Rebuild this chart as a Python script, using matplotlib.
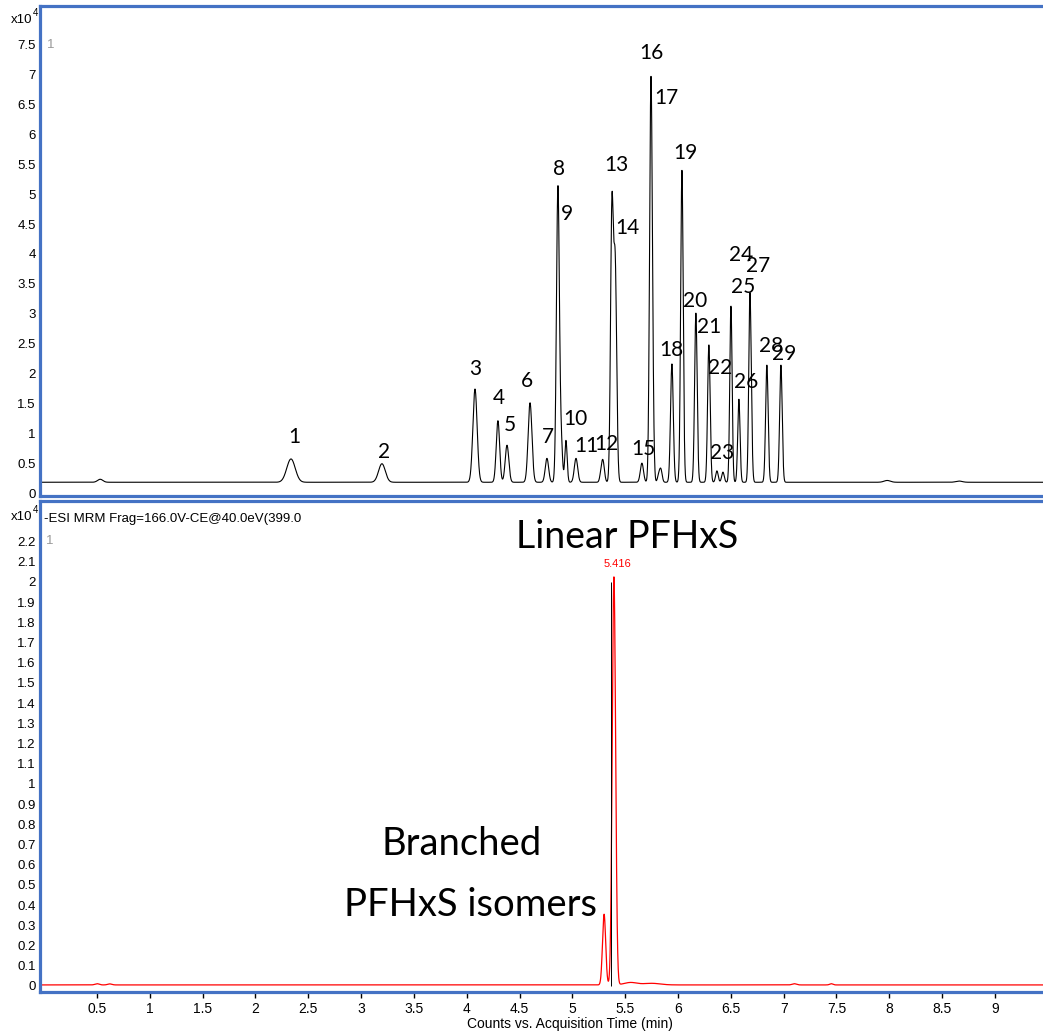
import numpy as np
import matplotlib
matplotlib.use("Agg")
import matplotlib.pyplot as plt

# ---- data (x10^4 counts, retention time in min) ----
# top chromatogram: peak retention times, apex heights above baseline, widths (sigma)
top_rt = [0.53, 2.336, 3.197, 4.078, 4.295, 4.381, 4.599, 4.759, 4.863, 4.895, 4.939, 5.034,
          5.27, 5.289, 5.374, 5.405, 5.658, 5.744, 5.765, 5.818, 5.838, 5.942, 6.037, 6.169,
          6.292, 6.368, 6.425, 6.501, 6.576, 6.680, 6.695, 6.841, 6.974, 7.98, 8.66]
top_height = [0.05, 0.39, 0.31, 1.56, 1.03, 0.62, 1.33, 0.40, 4.95, 0.6, 0.70, 0.40,
              0.10, 0.35, 4.50, 3.6, 0.32, 6.75, 0.4, 0.12, 0.20, 1.98, 5.22, 2.83,
              2.30, 0.19, 0.17, 2.95, 1.39, 3.0, 0.5, 1.96, 1.96, 0.03, 0.02]
top_sigma = [0.025, 0.040, 0.032, 0.020, 0.016, 0.017, 0.018, 0.016, 0.014, 0.012, 0.011, 0.016,
             0.012, 0.014, 0.013, 0.014, 0.015, 0.013, 0.010, 0.012, 0.012, 0.013, 0.012, 0.012,
             0.012, 0.012, 0.012, 0.011, 0.011, 0.011, 0.010, 0.012, 0.012, 0.03, 0.03]
top_base = 0.18

peak_labels = [str(i) for i in range(1, 30)]
label_t = [2.37, 3.22, 4.08, 4.30, 4.41, 4.57, 4.77, 4.87, 4.95, 5.03, 5.13, 5.32, 5.42, 5.52,
           5.67, 5.75, 5.89, 5.94, 6.07, 6.16, 6.29, 6.40, 6.42, 6.60, 6.62, 6.64, 6.76, 6.88, 7.00]
label_y = [0.94, 0.69, 2.08, 1.59, 1.14, 1.88, 0.94, 5.42, 4.67, 1.24, 0.79, 0.82, 5.49, 4.44,
           0.74, 7.37, 6.61, 2.39, 5.69, 3.21, 2.78, 2.09, 0.67, 3.98, 3.45, 1.86, 3.80, 2.46, 2.33]

# bottom MRM trace (PFHxS 399 -> 80)
mrm_rt = [0.50, 0.62, 5.300, 5.393, 5.55, 5.75, 7.10, 7.45]
mrm_height = [0.006, 0.005, 0.35, 2.02, 0.012, 0.008, 0.006, 0.006]
mrm_sigma = [0.02, 0.02, 0.015, 0.016, 0.06, 0.08, 0.02, 0.015]
mrm_base = 0.005
rt_label = "5.416"

top_ticks = np.arange(0, 7.51, 0.5)
bot_ticks = np.arange(0, 2.201, 0.1)
x_ticks = np.arange(0.5, 9.01, 0.5)

BLUE = "#4472C4"
FW, FH = 1043, 1031


def trace(t, rts, hs, ss, base):
    y = np.full_like(t, base)
    for r, h, s in zip(rts, hs, ss):
        y += h * np.exp(-0.5 * ((t - r) / s) ** 2)
    return y


def fmt(v):
    s = f"{v:.1f}"
    return s[:-2] if s.endswith(".0") else s


def px(x, y):
    return x / FW, 1 - y / FH


t = np.linspace(-0.04, 9.46, 8000)

fig = plt.figure(figsize=(FW / 100, FH / 100), dpi=100)
ax1 = fig.add_axes([40 / FW, 1 - 496 / FH, 1 - 40 / FW, 490 / FH])
ax2 = fig.add_axes([40 / FW, 1 - 992 / FH, 1 - 40 / FW, 491 / FH])

for ax in (ax1, ax2):
    ax.set_xlim(-0.04, 9.455)
    for side in ("left", "top", "bottom"):
        ax.spines[side].set_color(BLUE)
        ax.spines[side].set_linewidth(2.3)
    ax.spines["right"].set_visible(False)
    ax.tick_params(axis="y", length=0, pad=3, labelsize=9.5)

# top panel
ax1.plot(t, trace(t, top_rt, top_height, top_sigma, top_base), color="black", lw=0.8)
ax1.set_ylim(-0.05, 8.15)
ax1.set_yticks(top_ticks)
ax1.set_yticklabels([fmt(v) for v in top_ticks], family="Liberation Sans")
ax1.set_xticks([])
for s, lx, ly in zip(peak_labels, label_t, label_y):
    ax1.text(lx, ly, s, ha="center", va="center", fontsize=15, family="Lato")

# bottom panel
ax2.plot(t, trace(t, mrm_rt, mrm_height, mrm_sigma, mrm_base), color="red", lw=0.9)
ax2.vlines(5.365, 0, 2.0, color="black", lw=0.7)
ax2.set_ylim(-0.03, 2.40)
ax2.set_yticks(bot_ticks)
ax2.set_yticklabels([fmt(v) for v in bot_ticks], family="Liberation Sans")
ax2.set_xticks(x_ticks)
ax2.set_xticklabels([fmt(v) for v in x_ticks], family="Liberation Sans", fontsize=10)
ax2.tick_params(axis="x", direction="out", length=4, width=1, color="black", pad=3)
ax2.text(5.43, 2.09, rt_label, color="red", fontsize=8, ha="center", va="center",
         family="Liberation Sans")
ax2.text(5.52, 2.22, "Linear PFHxS", fontsize=27, ha="center", va="center", family="Lato")
ax2.text(3.95, 0.70, "Branched", fontsize=27.5, ha="center", va="center", family="Lato")
ax2.text(4.04, 0.40, "PFHxS isomers", fontsize=27.5, ha="center", va="center", family="Lato")

# header texts
for y0 in (20, 517):
    fig.text(*px(11, y0), "x10", fontsize=9.5, va="center", family="Liberation Sans")
    fig.text(*px(33, y0 - 7), "4", fontsize=7, va="center", family="Liberation Sans")
fig.text(*px(47, 45), "1", fontsize=9.5, va="center", color="#999999", family="Liberation Sans")
fig.text(*px(46, 541), "1", fontsize=9.5, va="center", color="#999999", family="Liberation Sans")
fig.text(*px(44, 519), "-ESI MRM Frag=166.0V-CE@40.0eV(399.0", fontsize=9.5, va="center",
         family="Liberation Sans")
fig.text(*px(570, 1024), "Counts vs. Acquisition Time (min)", fontsize=10, ha="center",
         va="center", family="Liberation Sans")

fig.savefig("out.png", dpi=100)
